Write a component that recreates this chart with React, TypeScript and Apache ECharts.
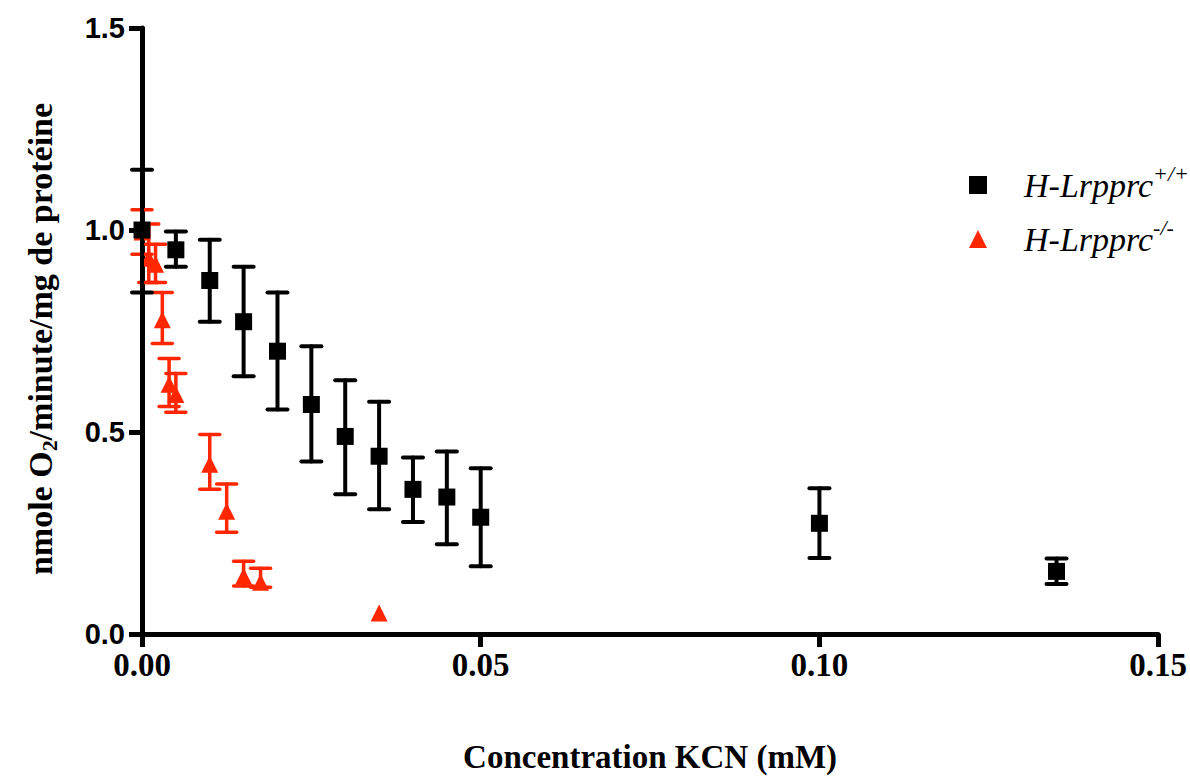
import React, { useEffect, useRef } from "react";
import * as echarts from "echarts";

// Wild type (black squares)
const wtX = [0, 0.005, 0.01, 0.015, 0.02, 0.025, 0.03, 0.035, 0.04, 0.045, 0.05, 0.1, 0.135];
const wtY = [1.0, 0.951, 0.875, 0.773, 0.7, 0.568, 0.489, 0.44, 0.358, 0.339, 0.289, 0.274, 0.155];
const wtLow = [0.845, 0.909, 0.773, 0.638, 0.556, 0.427, 0.346, 0.309, 0.277, 0.222, 0.168, 0.188, 0.124];
const wtHigh = [1.149, 0.996, 0.976, 0.909, 0.845, 0.712, 0.628, 0.575, 0.437, 0.452, 0.41, 0.361, 0.187];

// Knockout (red triangles)
const koX = [0, 0.001, 0.002, 0.003, 0.004, 0.005, 0.01, 0.0125, 0.015, 0.0175, 0.035];
const koY = [0.995, 0.93, 0.915, 0.778, 0.618, 0.593, 0.42, 0.304, 0.143, 0.128, 0.052];
const koLow = [0.94, 0.87, 0.87, 0.719, 0.563, 0.549, 0.358, 0.252, 0.119, 0.116, null];
const koHigh = [1.05, 1.015, 0.965, 0.845, 0.682, 0.645, 0.494, 0.371, 0.18, 0.163, null];

const xTicks = { min: 0, max: 0.15, interval: 0.05 };
const yTicks = { min: 0, max: 1.5, interval: 0.5 };

const WT_NAME = "wt";
const KO_NAME = "ko";
const RED = "#ff2600";
const SERIF = "'Liberation Serif', 'Times New Roman', serif";

function errorData(xs: number[], lows: (number | null)[], highs: (number | null)[]) {
  const out: number[][] = [];
  xs.forEach((x, i) => {
    if (lows[i] != null && highs[i] != null) out.push([x, lows[i] as number, highs[i] as number]);
  });
  return out;
}

function makeErrorSeries(name: string, data: number[][], color: string, width: number, z: number) {
  return {
    type: "custom",
    name,
    z,
    data,
    encode: { x: 0, y: [1, 2] },
    renderItem: (params: any, api: any) => {
      const x = api.value(0);
      const lo = api.coord([x, api.value(1)]);
      const hi = api.coord([x, api.value(2)]);
      const cap = 10;
      const style = { stroke: color, lineWidth: width, lineCap: "round" };
      return {
        type: "group",
        children: [
          { type: "line", shape: { x1: lo[0], y1: lo[1], x2: hi[0], y2: hi[1] }, style },
          { type: "line", shape: { x1: lo[0] - cap, y1: lo[1], x2: lo[0] + cap, y2: lo[1] }, style },
          { type: "line", shape: { x1: hi[0] - cap, y1: hi[1], x2: hi[0] + cap, y2: hi[1] }, style },
        ],
      };
    },
  };
}

export default function App() {
  const ref = useRef<HTMLDivElement>(null);
  useEffect(() => {
    document.body.style.margin = "0";
    const chart = echarts.init(ref.current as HTMLDivElement, null, { renderer: "svg" });
    const option: any = {
      animation: false,
      backgroundColor: "#ffffff",
      grid: { left: 142, right: 30, top: 28, bottom: 143, containLabel: false },
      legend: {
        orient: "vertical",
        left: 964,
        top: 157,
        itemWidth: 18,
        itemHeight: 18,
        itemGap: 14,
        data: [WT_NAME, KO_NAME],
        formatter: (n: string) =>
          n === WT_NAME ? "{i|H-Lrpprc}{s|+/+}" : "{i|H-Lrpprc}{s|-/-}",
        textStyle: {
          padding: [0, 0, 0, 32],
          rich: {
            i: {
              fontFamily: SERIF,
              fontStyle: "italic",
              fontSize: 34,
              color: "#000",
            },
            s: {
              fontFamily: SERIF,
              fontStyle: "italic",
              fontSize: 22,
              color: "#000",
              padding: [0, 0, 24, 0],
            },
          },
        },
      },
      xAxis: {
        type: "value",
        ...xTicks,
        name: "Concentration KCN (mM)",
        nameLocation: "middle",
        nameGap: 106,
        nameTextStyle: {
          fontFamily: SERIF,
          fontWeight: "bold",
          fontSize: 33,
          color: "#000",
        },
        axisLine: { lineStyle: { color: "#000", width: 5 } },
        axisTick: { length: 13, lineStyle: { color: "#000", width: 5 } },
        splitLine: { show: false },
        axisLabel: {
          formatter: (v: number) => v.toFixed(2),
          fontFamily: SERIF,
          fontWeight: "bold",
          fontSize: 33,
          color: "#000",
          margin: 14,
        },
      },
      yAxis: {
        type: "value",
        ...yTicks,
        name: "nmole O{sub|2}/minute/mg de protéine",
        nameLocation: "middle",
        nameGap: 82,
        nameTextStyle: {
          fontFamily: SERIF,
          fontWeight: "bold",
          fontSize: 34,
          color: "#000",
          padding: [0, 16, 0, 0],
          rich: {
            sub: {
              fontFamily: SERIF,
              fontWeight: "bold",
              fontSize: 22,
              color: "#000",
              padding: [18, 0, 0, 0],
            },
          },
        },
        axisLine: { lineStyle: { color: "#000", width: 5 } },
        axisTick: { length: 13, lineStyle: { color: "#000", width: 5 } },
        splitLine: { show: false },
        axisLabel: {
          formatter: (v: number) => v.toFixed(1),
          fontFamily: "'Liberation Sans', Arial, sans-serif",
          fontWeight: "bold",
          fontSize: 29,
          color: "#000",
          margin: 17,
        },
      },
      series: [
        makeErrorSeries(KO_NAME + "_err", errorData(koX, koLow, koHigh), RED, 3.5, 1),
        {
          type: "scatter",
          name: KO_NAME,
          z: 2,
          symbol: "triangle",
          symbolSize: 17,
          itemStyle: { color: RED, opacity: 1 },
          data: koX.map((x, i) => [x, koY[i]]),
        },
        makeErrorSeries(WT_NAME + "_err", errorData(wtX, wtLow, wtHigh), "#000", 4, 3),
        {
          type: "scatter",
          name: WT_NAME,
          z: 4,
          symbol: "rect",
          symbolSize: 17,
          itemStyle: { color: "#000", opacity: 1 },
          data: wtX.map((x, i) => [x, wtY[i]]),
        },
      ],
    };
    chart.setOption(option);
    return () => chart.dispose();
  }, []);
  return <div ref={ref} style={{ width: 1190, height: 778 }} />;
}
